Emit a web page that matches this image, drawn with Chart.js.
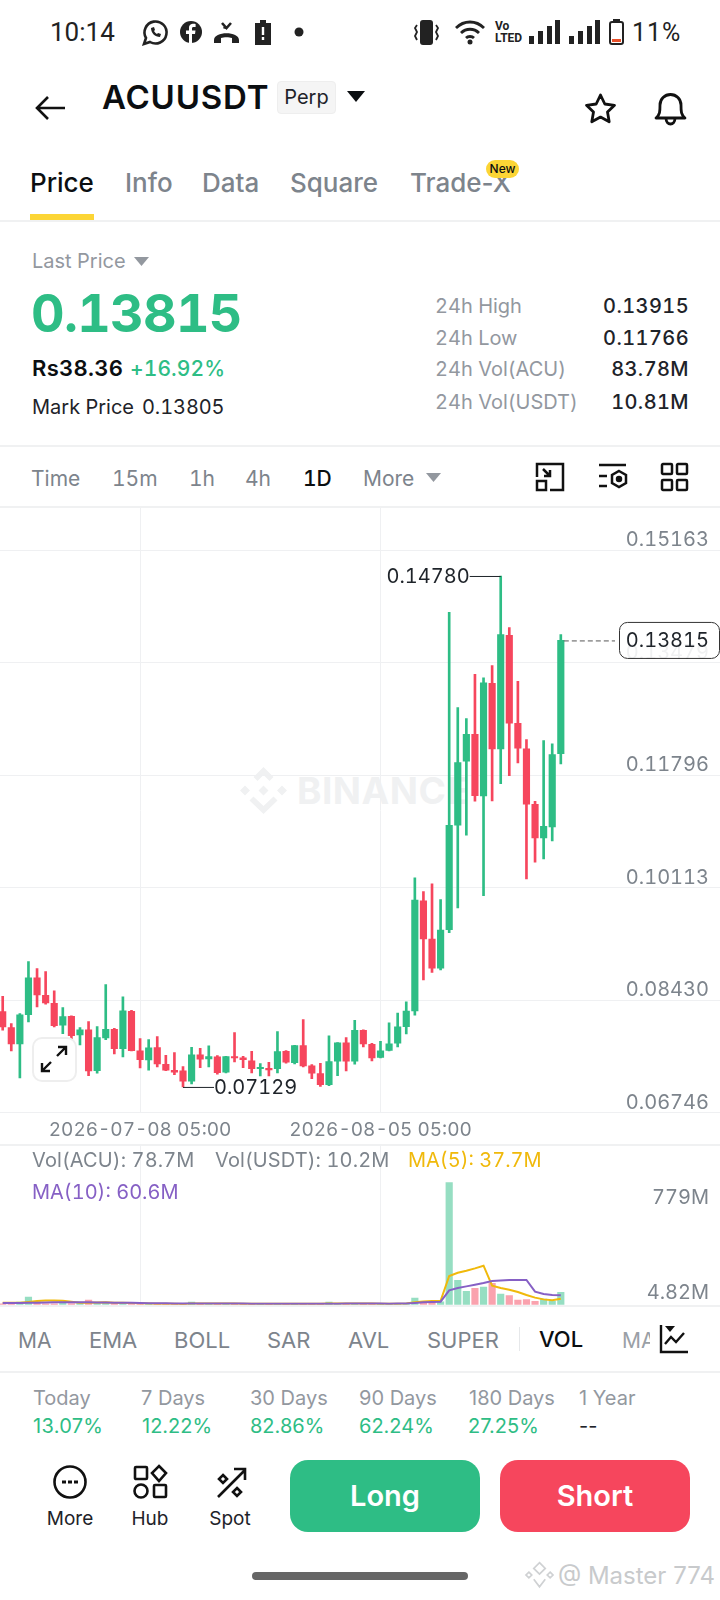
<!DOCTYPE html>
<html>
<head>
<meta charset="utf-8">
<title>ACUUSDT Perp</title>
<script src="https://cdn.jsdelivr.net/npm/chart.js@4"></script>
<style>
html, body { margin: 0; padding: 0; background: #fff; }
body { position: relative; width: 720px; height: 1600px; overflow: hidden; font-family: Inter, sans-serif; font-variant-numeric: tabular-nums; color: #1e2329; }
.t { position: absolute; white-space: nowrap; transform: translateY(-50%); line-height: 1; }
.r { transform: translate(-100%, -50%); }
.c { transform: translate(-50%, -50%); }
.p { font-variant-numeric: normal; }
.gray { color: #7d848c; }
.light { color: #93989f; }
.green { color: #2ebd85; }
.line { position: absolute; left: 0; width: 720px; height: 2px; background: #f0f1f2; }
svg { position: absolute; overflow: visible; }
canvas { position: absolute; left: 0; }
.btn { position: absolute; top: 1460px; width: 190px; height: 72px; border-radius: 18px; color: #fff; font-size: 29px; font-weight: 600; line-height: 72px; text-align: center; }
</style>
</head>
<body>

<!-- status bar -->
<div class="t" style="left:50px;top:32px;font:26px Roboto;color:#222">10:14</div>
<svg style="left:142px;top:20px" width="26" height="26" viewBox="0 0 26 26" fill="none" stroke="#222" stroke-width="2.6"><path d="M2 24l2-6a11 11 0 1 1 4 4z"/><path d="M9 8c0 5 4 9 9 9l1-3-3-1-1 1c-1-.5-2.500-2-3-3l1-1-1-3z" fill="#222" stroke="none"/></svg>
<svg style="left:180px;top:21px" width="22" height="22" viewBox="0 0 22 22"><circle cx="11" cy="11" r="11" fill="#222"/><path d="M12 22v-9h3l.5-3.500H12V7.500c0-1 .5-1.500 1.600-1.500H15.600V3c-3.500-.5-6.600 0-6.600 4v2.500H6V13h3v9z" fill="#fff"/></svg>
<svg style="left:213px;top:21px" width="27" height="24" viewBox="0 0 27 24"><path d="M1 19c0-9 25-9 25 0v3h-7v-5c-3-1-8-1-11 0v5H1z" fill="#222"/><path d="M9 2l4.500 5L18 2M13.500 7l-3-1" fill="none" stroke="#222" stroke-width="2.600"/></svg>
<svg style="left:255px;top:20px" width="16" height="25" viewBox="0 0 16 25"><path d="M5 0h6v3h5v22H0V3h5z" fill="#222"/><path d="M8 7v8M8 17v3" stroke="#fff" stroke-width="2.400"/></svg>
<svg style="left:294px;top:27px" width="10" height="10"><circle cx="5" cy="5" r="4.500" fill="#222"/></svg>
<svg style="left:413px;top:20px" width="27" height="25" viewBox="0 0 27 25" fill="none" stroke="#222" stroke-width="1.800"><rect x="7" y="0" width="13" height="25" rx="3" fill="#222" stroke="none"/><path d="M4 5l-2 3 2 4-2 4 2 4M23 5l2 3-2 4 2 4-2 4"/></svg>
<svg style="left:455px;top:20px" width="30" height="25" viewBox="0 0 30 25" fill="none" stroke="#222" stroke-width="2.800"><path d="M1 8c8-8 20-8 28 0M6 13c5-5 13-5 18 0M11 18c2-2 6-2 8 0"/><circle cx="15" cy="22" r="2.500" fill="#222" stroke="none"/></svg>
<div class="t" style="left:495px;top:26px;font:bold 12px Roboto;color:#222">Vo</div>
<div class="t" style="left:495px;top:38px;font:bold 12px Roboto;color:#222">LTED</div>
<svg style="left:529px;top:20px" width="72" height="25" viewBox="0 0 72 25" fill="#222"><rect x="0" y="16" width="5" height="8"/><rect x="9" y="11" width="5" height="13"/><rect x="18" y="6" width="5" height="18"/><rect x="26" y="0" width="5" height="24"/><rect x="40" y="16" width="5" height="8"/><rect x="49" y="11" width="5" height="13"/><rect x="58" y="6" width="5" height="18"/><rect x="66" y="0" width="5" height="24"/></svg>
<svg style="left:609px;top:19px" width="15" height="26" viewBox="0 0 15 26"><rect x="1" y="3" width="13" height="22" rx="2" fill="none" stroke="#222" stroke-width="2"/><rect x="4" y="0" width="7" height="3" fill="#222"/><rect x="3" y="20" width="9" height="3" fill="#e8502a"/></svg>
<div class="t" style="left:632px;top:32px;font:25px Roboto;color:#222;letter-spacing:1px">11%</div>

<!-- title row -->
<svg style="left:35px;top:96px" width="30" height="24" viewBox="0 0 30 24" fill="none" stroke="#111" stroke-width="2.600"><path d="M30 12H2M13 1L2 12l11 11"/></svg>
<div class="t" style="left:102px;top:97px;font-size:33px;font-weight:600;color:#0b0e11;letter-spacing:.8px">ACUUSDT</div>
<div style="position:absolute;left:277px;top:81px;width:57px;height:31px;background:#f5f5f5;border:1px solid #eee;border-radius:4px;font-size:20px;line-height:30px;text-align:center;color:#1e2329">Perp</div>
<svg style="left:347px;top:91px" width="18" height="11"><path d="M0 0h18L9 11z" fill="#0b0e11"/></svg>
<svg style="left:584px;top:93px" width="33" height="31" viewBox="0 0 33 31" fill="none" stroke="#111" stroke-width="2.800" stroke-linejoin="round"><path d="M16.500 2l4.300 9 9.700 1.300-7 6.800 1.700 9.700-8.700-4.700-8.700 4.700 1.700-9.700-7-6.800 9.700-1.300z"/></svg>
<svg style="left:654px;top:91px" width="33" height="35" viewBox="0 0 33 35" fill="none" stroke="#111" stroke-width="2.800" stroke-linejoin="round"><path d="M2 27c4-3 4-7 4-13a10.500 10.500 0 0 1 21 0c0 6 0 10 4 13z"/><path d="M12 27c0 8 9 8 9 0"/></svg>

<!-- tabs -->
<div class="t" style="left:30px;top:183px;font-size:26px;font-weight:500;color:#0b0e11">Price</div>
<div class="t gray" style="left:125px;top:183px;font-size:26px;font-weight:500">Info</div>
<div class="t gray" style="left:202px;top:183px;font-size:26px;font-weight:500">Data</div>
<div class="t gray" style="left:290px;top:183px;font-size:26px;font-weight:500">Square</div>
<div class="t gray p" style="left:410px;top:183px;font-size:26px;font-weight:500">Trade-X</div>
<div style="position:absolute;left:486px;top:160px;width:33px;height:18px;background:#fcd535;border-radius:9px;font-size:12px;font-weight:500;line-height:18px;text-align:center;color:#0b0e11">New</div>
<div style="position:absolute;left:30px;top:214px;width:64px;height:6px;background:#fcd535"></div>
<div class="line" style="top:220px"></div>

<!-- last price block -->
<div class="t light" style="left:32px;top:261px;font-size:20px">Last Price</div>
<svg style="left:134px;top:257px" width="15" height="9"><path d="M0 0h15L7.500 9z" fill="#93989f"/></svg>
<div class="t green" style="left:31px;top:314px;font-size:52px;font-weight:700;letter-spacing:-.7px">0.13815</div>
<div class="t" style="left:32px;top:368px;font-size:22px;font-weight:600;color:#0b0e11;letter-spacing:.3px">Rs38.36</div>
<div class="t green" style="left:130px;top:368px;font-size:21px;font-weight:500;letter-spacing:.1px">+16.92%</div>
<div class="t" style="left:32px;top:407px;font-size:20px">Mark Price</div>
<div class="t" style="left:142px;top:407px;font-size:20px;letter-spacing:-.1px">0.13805</div>

<div class="t light" style="left:435px;top:306px;font-size:20px">24h High</div>
<div class="t light" style="left:435px;top:338px;font-size:20px">24h Low</div>
<div class="t light" style="left:435px;top:369px;font-size:20px">24h Vol(ACU)</div>
<div class="t light" style="left:435px;top:402px;font-size:20px">24h Vol(USDT)</div>
<div class="t r" style="left:689px;top:306px;font-size:20px;font-weight:500;letter-spacing:.4px">0.13915</div>
<div class="t r" style="left:689px;top:338px;font-size:20px;font-weight:500;letter-spacing:.4px">0.11766</div>
<div class="t r" style="left:689px;top:369px;font-size:20px;font-weight:500;letter-spacing:.4px">83.78M</div>
<div class="t r" style="left:689px;top:402px;font-size:20px;font-weight:500;letter-spacing:.4px">10.81M</div>
<div class="line" style="top:445px"></div>

<!-- interval row -->
<div class="t gray" style="left:31px;top:478px;font-size:21px">Time</div>
<div class="t gray" style="left:112px;top:478px;font-size:21px">15m</div>
<div class="t gray" style="left:189px;top:478px;font-size:21px">1h</div>
<div class="t gray" style="left:245px;top:478px;font-size:21px">4h</div>
<div class="t" style="left:303px;top:478px;font-size:21px;font-weight:500;color:#0b0e11">1D</div>
<div class="t gray" style="left:363px;top:478px;font-size:21px">More</div>
<svg style="left:426px;top:473px" width="15" height="9"><path d="M0 0h15L7.500 9z" fill="#93989f"/></svg>
<svg style="left:536px;top:463px" width="28" height="28" viewBox="0 0 28 28" fill="none" stroke="#111" stroke-width="2.500"><path d="M1 14V1h26v26H14M7 6l7 7M14 7v6H8"/><rect x="1" y="18" width="9" height="9"/></svg>
<svg style="left:598px;top:463px" width="30" height="28" viewBox="0 0 30 28" fill="none" stroke="#111" stroke-width="2.500"><path d="M1 2h27M1 13h8M1 23h8M21 8l7 4v8l-7 4-7-4v-8z"/><circle cx="21" cy="16" r="2" fill="#111"/></svg>
<svg style="left:661px;top:463px" width="27" height="28" viewBox="0 0 27 28" fill="none" stroke="#111" stroke-width="2.500"><rect x="1" y="1" width="10" height="10" rx="1"/><rect x="16" y="1" width="10" height="10" rx="1"/><rect x="1" y="17" width="10" height="10" rx="1"/><rect x="16" y="17" width="10" height="10" rx="1"/></svg>
<div class="line" style="top:506px"></div>

<!-- watermark under the chart -->
<svg style="left:240px;top:767px" width="47" height="47" viewBox="0 0 47 47" fill="#f0f1f2"><path d="M23.500 0l10 10-4 4-6-6-6 6-4-4zM5 18.500l5 5-5 5-5-5zM42 18.500l5 5-5 5-5-5zM23.500 18.500l5 5-5 5-5-5zM13.500 29.500l10 9.500 10-9.500 4 4-14 13.500-14-13.500z"/></svg>
<div class="t" style="left:297px;top:790px;font-size:37px;font-weight:700;color:#f0f1f2;letter-spacing:.5px">BINANCE</div>

<canvas id="priceChart" width="720" height="637" style="top:508px"></canvas>

<div style="position:absolute;left:32px;top:1037px;width:41px;height:41px;border:2px solid #eeeeee;border-radius:10px;background:rgba(255,255,255,.9)"></div>
<svg style="left:40px;top:1045px" width="28" height="28" viewBox="0 0 28 28" fill="none" stroke="#111" stroke-width="2.400"><path d="M11 17L2 26M2 18v8h8M17 11l9-9M18 2h8v8"/></svg>

<!-- volume panel -->
<div class="line" style="top:1144px"></div>
<canvas id="volumeChart" width="720" height="161" style="top:1145px"></canvas>
<div class="t gray" style="left:32px;top:1160px;font-size:20px;letter-spacing:.1px">Vol(ACU): 78.7M</div>
<div class="t gray" style="left:215px;top:1160px;font-size:20px;letter-spacing:.1px">Vol(USDT): 10.2M</div>
<div class="t" style="left:408px;top:1160px;font-size:20px;color:#f0b90b">MA(5): 37.7M</div>
<div class="t" style="left:32px;top:1192px;font-size:20px;color:#8660c5">MA(10): 60.6M</div>
<div class="line" style="top:1305px"></div>

<!-- indicator row -->
<div class="t gray" style="left:18px;top:1340px;font-size:21px">MA</div>
<div class="t gray" style="left:89px;top:1340px;font-size:22px">EMA</div>
<div class="t gray" style="left:174px;top:1340px;font-size:22px">BOLL</div>
<div class="t gray" style="left:267px;top:1340px;font-size:22px">SAR</div>
<div class="t gray" style="left:348px;top:1340px;font-size:22px">AVL</div>
<div class="t gray" style="left:427px;top:1340px;font-size:22px">SUPER</div>
<div style="position:absolute;left:519px;top:1327px;width:1px;height:24px;background:#e6e8ea"></div>
<div class="t" style="left:539px;top:1339px;font-size:22px;font-weight:500;color:#0b0e11">VOL</div>
<div class="t" style="left:622px;top:1340px;font-size:21px;width:28px;overflow:hidden;color:#9aa0a6">MACD</div>
<svg style="left:660px;top:1325px" width="28" height="28" viewBox="0 0 28 28" fill="none" stroke="#111" stroke-width="2.400"><path d="M1 0v27h27M5 19l6-7 5 5 8-9"/><path d="M5 1h10l-5 6z" fill="#111" stroke="none"/></svg>
<div class="line" style="top:1371px"></div>

<!-- period changes -->
<div class="t light p" style="left:33px;top:1398px;font-size:20px">Today</div>
<div class="t light p" style="left:141px;top:1398px;font-size:20px">7 Days</div>
<div class="t light p" style="left:250px;top:1398px;font-size:20px">30 Days</div>
<div class="t light p" style="left:359px;top:1398px;font-size:20px">90 Days</div>
<div class="t light p" style="left:469px;top:1398px;font-size:20px">180 Days</div>
<div class="t light p" style="left:579px;top:1398px;font-size:20px">1 Year</div>
<div class="t green p" style="left:33px;top:1426px;font-size:20px;letter-spacing:.3px">13.07%</div>
<div class="t green p" style="left:142px;top:1426px;font-size:20px">12.22%</div>
<div class="t green p" style="left:250px;top:1426px;font-size:20px">82.86%</div>
<div class="t green p" style="left:359px;top:1426px;font-size:20px">62.24%</div>
<div class="t green p" style="left:468px;top:1426px;font-size:20px">27.25%</div>
<div class="t p" style="left:579px;top:1426px;font-size:20px">--</div>

<!-- footer -->
<svg style="left:53px;top:1465px" width="34" height="34" viewBox="0 0 34 34" fill="none" stroke="#111" stroke-width="2.600"><circle cx="17" cy="17" r="15.500"/><path d="M9 17h4M15 17h4M21 17h4" stroke-width="3"/></svg>
<svg style="left:134px;top:1465px" width="33" height="34" viewBox="0 0 33 34" fill="none" stroke="#111" stroke-width="2.600"><rect x="1" y="2" width="12" height="12" rx="1"/><path d="M25 1l7 7-7 8-7-8z"/><circle cx="7" cy="26" r="6.500"/><rect x="20" y="20" width="12" height="12" rx="1"/></svg>
<svg style="left:216px;top:1467px" width="31" height="32" viewBox="0 0 31 32" fill="none" stroke="#111" stroke-width="2.600"><path d="M2 30L29 3M18 2h11v11M7 8l4 4-4 4-4-4zM21 21l4 4-4 4-4-4z"/></svg>
<div class="t c" style="left:70px;top:1518px;font-size:19px">More</div>
<div class="t c" style="left:150px;top:1518px;font-size:19px">Hub</div>
<div class="t c" style="left:230px;top:1518px;font-size:19px">Spot</div>
<div class="btn" style="left:290px;background:#2ebd85">Long</div>
<div class="btn" style="left:500px;background:#f6465d">Short</div>
<div style="position:absolute;left:252px;top:1572px;width:216px;height:8px;border-radius:4px;background:#666"></div>
<svg style="left:526px;top:1561px" width="27" height="28" viewBox="0 0 47 47" fill="none" stroke="#cfd1d3" stroke-width="3"><path d="M23.500 2l10 10-10 10-10-10zM5 18.500l5 5-5 5-5-5zM42 18.500l5 5-5 5-5-5zM13.500 31l10 13 10-13"/></svg>
<div class="t p" style="left:558px;top:1576px;font-size:24px;color:#c8cacc">@ Master 774</div>

<script>
// one daily candle per entry
const days = ['06-22','06-23','06-24','06-25','06-26','06-27','06-28','06-29','06-30','07-01','07-02','07-03','07-04','07-05','07-06','07-07','07-08','07-09','07-10','07-11','07-12','07-13','07-14','07-15','07-16','07-17','07-18','07-19','07-20','07-21','07-22','07-23','07-24','07-25','07-26','07-27','07-28','07-29','07-30','07-31','08-01','08-02','08-03','08-04','08-05','08-06','08-07','08-08','08-09','08-10','08-11','08-12','08-13','08-14','08-15','08-16','08-17','08-18','08-19','08-20','08-21','08-22','08-23','08-24','08-25','08-26'];
const opens = [.08257,.08018,.07773,.08212,.08761,.08502,.08382,.08053,.08187,.07908,.07983,.07374,.07863,.07993,.07703,.08262,.07668,.07533,.07718,.07468,.07379,.07369,.07214,.07608,.07548,.07578,.07349,.07583,.07563,.07518,.07404,.07409,.07404,.07663,.07493,.07748,.07444,.07329,.07164,.07513,.07788,.07513,.07978,.07768,.07569,.07674,.07784,.08033,.08268,.09915,.09341,.08907,.09485,.11047,.12006,.1241,.11487,.13174,.12191,.13893,.12575,.12191,.11362,.10858,.11022,.12121];
const highs = [.08487,.08077,.08227,.09006,.08901,.08856,.08567,.08317,.08192,.08018,.08107,.08033,.08662,.08008,.08477,.08277,.07853,.07838,.07883,.07603,.07643,.07434,.07723,.07708,.07743,.07598,.07588,.07943,.07588,.07663,.07478,.07498,.07958,.07673,.07753,.08137,.07463,.07483,.07893,.07793,.07868,.08127,.07983,.07783,.07813,.08088,.08233,.08402,.10259,.10055,.1017,.09935,.14237,.1281,.12645,.13309,.13254,.13439,.1478,.14008,.13204,.1233,.11407,.12315,.12265,.13903];
const lows = [.07978,.07668,.07264,.08102,.08327,.08367,.08028,.07928,.07853,.07758,.07299,.07334,.07838,.07623,.07578,.07668,.07414,.07379,.07429,.07374,.07314,.07129,.07174,.07419,.07429,.07319,.07339,.07503,.07419,.07339,.07294,.07294,.07339,.07483,.07473,.07429,.07254,.07135,.07149,.07299,.07369,.07468,.07728,.07519,.07564,.07669,.07728,.07923,.08203,.08732,.08842,.08882,.0944,.09809,.10898,.11407,.09994,.11412,.11671,.11791,.11981,.10244,.10493,.10543,.10813,.11966];
const closes = [.08028,.07773,.08207,.08761,.08507,.08387,.08048,.08182,.07898,.07983,.07369,.07868,.07993,.07703,.08267,.07673,.07538,.07713,.07473,.07379,.07349,.07214,.07608,.07543,.07583,.07344,.07583,.07563,.07538,.07404,.07424,.07384,.07658,.07498,.07748,.07444,.07334,.07164,.07508,.07788,.07513,.07978,.07773,.07564,.07669,.07773,.08028,.08263,.09925,.09346,.08907,.09476,.11047,.11986,.1241,.11492,.13179,.12191,.13903,.12575,.122,.11362,.10858,.11032,.12106,.13815];
const volumes = [6,8,17,48,16,5,5,17,7,9,30,15,15,7,12,7,6,5,5,5,5,5,16,6,5,5,5,5,5,5,5,5,5,5,6,6,5,5,16,6,5,5,6,5,6,6,7,8,43,19,19,19,779,155,85,104,113,136,68,58,30,32,21,36,21,78.7];
const ma5 = [13,13,13,18,24,27,27,25,19,13,12,14,15,13,12,11,9,7,6,6,6,5,7,7,8,8,8,7,6,6,6,6,6,6,6,6,6,6,7,7,8,8,8,7,6,6,6,7,15,21,23,25,183,204,217,232,249,121,107,96,81,62,45,34,28,37.7];
const ma10 = [11,11,11,12,13,14,15,16,16,15,15,14,14,13,13,12,11,10,9,9,8,8,8,8,7,7,7,7,7,6,6,6,6,6,6,6,6,6,6,6,7,7,7,7,7,6,7,8,11,15,17,19,92,107,117,128,138,151,155,158,158,158,83,68,62,60.6];
const priceTicks = [0.06746, 0.08430, 0.10113, 0.11796, 0.13479, 0.15163];
const volumeTicks = [4.82, 779];
const dateTickDays = ['07-08', '08-05'];
const dateTickLabels = ['2026-07-08 05:00', '2026-08-05 05:00'];

const green = '#2ebd85';
const red = '#f6465d';
const gridColor = '#eff0f2';
const tickColor = '#7d848c';
const dateTicks = dateTickDays.map(d => days.indexOf(d));
const isUp = i => closes[i] >= opens[i];

Chart.defaults.font.family = 'Inter, sans-serif';
Chart.defaults.animation = false;
Chart.defaults.events = [];
Chart.defaults.plugins.legend.display = false;
Chart.defaults.plugins.tooltip.enabled = false;

function xAxis(showLabels, height) {
    return {
        type: 'linear',
        offset: false,
        min: -0.3145,
        max: 83.54,
        afterBuildTicks: scale => { scale.ticks = dateTicks.map(value => ({ value })); },
        afterFit: scale => {
            scale.height = height;
            scale.paddingLeft = 0;
            scale.paddingRight = 0;
        },
        border: { display: false },
        grid: { color: gridColor, drawTicks: false, offset: false },
        ticks: {
            display: showLabels,
            autoSkip: false,
            maxRotation: 0,
            padding: 6,
            color: tickColor,
            font: { size: 19 },
            callback: value => dateTickLabels[dateTicks.indexOf(value)]
        }
    };
}

function rightAxisFit(scale) {
    scale.width = 0;
    scale.paddingTop = 0;
    scale.paddingBottom = 0;
}

// hi/lo labels and the last price tag
const priceMarks = {
    id: 'priceMarks',
    afterDraw(chart) {
        const { ctx, scales: { x, y } } = chart;
        const top = Math.max(...highs);
        const bottom = Math.min(...lows);
        const topX = x.getPixelForValue(highs.indexOf(top));
        const topY = y.getPixelForValue(top);
        const bottomX = x.getPixelForValue(lows.indexOf(bottom));
        const bottomY = y.getPixelForValue(bottom);
        const lastIndex = closes.length - 1;
        const lastY = y.getPixelForValue(closes[lastIndex]);

        ctx.save();
        ctx.font = '20px Inter, sans-serif';
        ctx.textBaseline = 'middle';
        ctx.strokeStyle = '#1e2329';
        ctx.fillStyle = '#1e2329';
        ctx.lineWidth = 1;

        ctx.beginPath();
        ctx.moveTo(topX, topY + 0.5);
        ctx.lineTo(topX - 31, topY + 0.5);
        ctx.moveTo(bottomX, bottomY + 0.5);
        ctx.lineTo(bottomX + 31, bottomY + 0.5);
        ctx.stroke();
        ctx.textAlign = 'right';
        ctx.fillText(top.toFixed(5), topX - 31, topY + 1);
        ctx.textAlign = 'left';
        ctx.fillText(bottom.toFixed(5), bottomX + 31, bottomY + 1);

        ctx.strokeStyle = '#555';
        ctx.setLineDash([5, 3]);
        ctx.beginPath();
        ctx.moveTo(x.getPixelForValue(lastIndex) + 3, lastY + 0.5);
        ctx.lineTo(615, lastY + 0.5);
        ctx.stroke();
        ctx.setLineDash([]);

        ctx.beginPath();
        ctx.roundRect(619.5, lastY - 18, 100, 36, 8);
        ctx.fillStyle = 'rgba(255,255,255,0.88)';
        ctx.fill();
        ctx.strokeStyle = '#333';
        ctx.stroke();
        ctx.fillStyle = '#1e2329';
        ctx.textAlign = 'right';
        ctx.fillText(closes[lastIndex].toFixed(5), 709, lastY + 1);
        ctx.restore();
    }
};

new Chart(document.getElementById('priceChart'), {
    type: 'bar',
    data: {
        datasets: [
            {
                data: days.map((d, i) => ({ x: i, y: [lows[i], highs[i]] })),
                backgroundColor: days.map((d, i) => isUp(i) ? green : red),
                barThickness: 2,
                grouped: false,
                order: 2
            },
            {
                data: days.map((d, i) => ({ x: i, y: [opens[i], closes[i]] })),
                backgroundColor: days.map((d, i) => isUp(i) ? green : red),
                barThickness: 6.5,
                grouped: false,
                order: 1
            }
        ]
    },
    options: {
        responsive: false,
        layout: { padding: 0 },
        scales: {
            x: xAxis(true, 32.5),
            y: {
                position: 'right',
                min: 0.06746,
                max: 0.15798,
                afterBuildTicks: scale => { scale.ticks = priceTicks.map(value => ({ value })); },
                afterFit: rightAxisFit,
                border: { display: false },
                grid: { color: gridColor, drawTicks: false },
                ticks: {
                    mirror: true,
                    padding: -11,
                    color: tickColor,
                    font: { size: 20, lineHeight: '20px' },
                    // second empty line lifts the label above its grid line
                    callback: value => [value.toFixed(5), '']
                }
            }
        }
    },
    plugins: [priceMarks]
});

new Chart(document.getElementById('volumeChart'), {
    type: 'bar',
    data: {
        datasets: [
            {
                type: 'line',
                data: days.map((d, i) => ({ x: i, y: ma10[i] })),
                borderColor: '#8660c5',
                borderWidth: 2,
                pointRadius: 0,
                order: 1
            },
            {
                type: 'line',
                data: days.map((d, i) => ({ x: i, y: ma5[i] })),
                borderColor: '#f0b90b',
                borderWidth: 2,
                pointRadius: 0,
                order: 2
            },
            {
                data: days.map((d, i) => ({ x: i, y: volumes[i] })),
                backgroundColor: days.map((d, i) => isUp(i) ? 'rgba(46,189,133,0.5)' : 'rgba(246,70,93,0.5)'),
                barThickness: 6.5,
                order: 3
            }
        ]
    },
    options: {
        responsive: false,
        layout: { padding: 0 },
        scales: {
            x: xAxis(false, 1.3),
            y: {
                position: 'right',
                min: 0,
                max: 1019.7,
                afterBuildTicks: scale => { scale.ticks = volumeTicks.map(value => ({ value })); },
                afterFit: rightAxisFit,
                border: { display: false },
                grid: { display: false },
                ticks: {
                    mirror: true,
                    padding: -11,
                    color: tickColor,
                    font: ctx => ({ size: 20, lineHeight: ctx.tick && ctx.tick.value > 100 ? '31px' : '21px' }),
                    callback: value => value > 100 ? ['', value + 'M'] : [value + 'M', '']
                }
            }
        }
    }
});
</script>
</body>
</html>
